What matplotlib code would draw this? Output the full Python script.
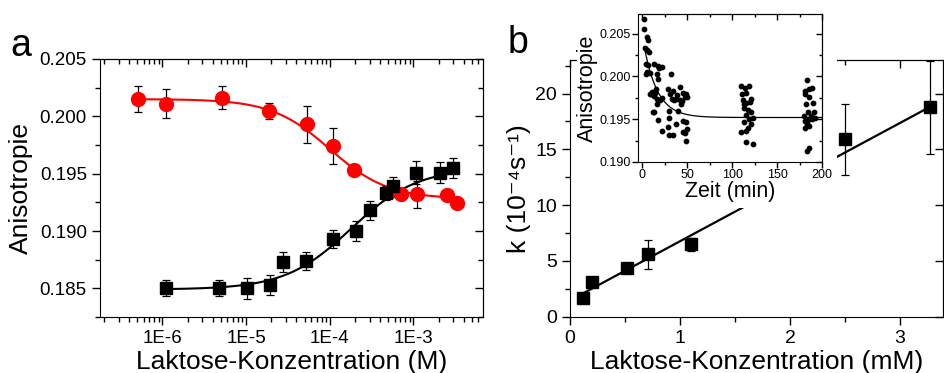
import numpy as np
import matplotlib.pyplot as plt
from matplotlib.ticker import AutoMinorLocator, MultipleLocator, NullFormatter
from matplotlib.patches import Rectangle

plt.rcParams['font.family'] = ['Liberation Sans', 'DejaVu Sans']

# Panel a: anisotropy vs lactose concentration (M)
conc_red = [5.1e-7, 1.1e-6, 5.2e-6, 1.9e-5, 5.3e-5, 1.08e-4, 1.95e-4, 5.1e-4, 7.1e-4, 1.1e-3, 2.5e-3, 3.3e-3]
aniso_red = [0.2015, 0.2011, 0.2016, 0.2005, 0.1993, 0.1974, 0.1953, 0.1934, 0.1932, 0.1932, 0.1931, 0.1924]
err_red = [0.0011, 0.00125, 0.001, 0.0007, 0.0016, 0.0016, 0.0003, 0.0003, 0.0003, 0.0012, 0.0003, 0.0002]

conc_black = [1.1e-6, 4.7e-6, 1.02e-5, 1.94e-5, 2.8e-5, 5.2e-5, 1.08e-4, 2.07e-4, 3.0e-4, 4.7e-4, 5.7e-4, 1.07e-3, 2.1e-3, 3.0e-3]
aniso_black = [0.1850, 0.1850, 0.1850, 0.1853, 0.1873, 0.1874, 0.1893, 0.1900, 0.1918, 0.1933, 0.1939, 0.1951, 0.1951, 0.1955]
err_black = [0.0007, 0.0007, 0.0009, 0.0009, 0.0009, 0.0008, 0.0008, 0.0009, 0.0008, 0.0006, 0.0008, 0.001, 0.0009, 0.0009]

# logistic fit parameters (A1, A2, x0, p)
fit_red = (0.2015, 0.1928, 1.0e-4, 1.25)
fit_black = (0.1849, 0.1955, 1.8e-4, 1.1)

# Panel b: rate constant vs lactose concentration (mM)
conc_mM = [0.115, 0.203, 0.52, 0.71, 1.1, 2.5, 3.27]
k_rate = [1.64, 3.13, 4.33, 5.6, 6.48, 15.9, 18.75]
k_err = [0.3, 0.4, 0.3, 1.3, 0.6, 3.2, 4.2]
lin_fit = (1.46, 5.3)  # intercept, slope

# Inset: anisotropy vs time (min)
t_min = [1.5, 2.2, 4.8, 6, 3, 5, 7.4, 4.4, 6.7, 5.6, 8, 3.7, 13.3, 17, 18.5, 21.5, 16.7, 17.4, 31.5,
         8, 10, 13, 14.8, 16.3, 19, 21.5, 16, 11.5, 13, 17.8, 14, 11, 21.5, 29, 31, 34.4, 32.6, 35,
         37, 38, 42, 45.5, 47, 49.6, 48, 43, 29.6, 39.6, 30, 37.8, 45, 48, 29, 29.3, 34.4, 45, 47.4,
         49.6, 49, 41.5, 43.7,
         110, 113.7, 119, 111, 115.6, 112, 115.6, 120, 112.6, 117, 121, 115.6, 119, 123, 112.6, 117,
         121, 110, 115, 115.6, 123, 121, 112.6,
         183, 180.7, 186, 181, 186, 182.6, 190, 184, 187.7, 191.5, 180, 181, 184.8, 188.5, 192, 183,
         186, 181.5, 185.5, 183.7, 189]
aniso_t = [0.2067, 0.2055, 0.2046, 0.2043, 0.2033, 0.2031, 0.2028, 0.2015, 0.2013, 0.2005, 0.2004, 0.2003,
           0.2014, 0.2012, 0.2010, 0.2011, 0.2003, 0.1997, 0.2003, 0.1980, 0.1979, 0.1977, 0.1985, 0.1974,
           0.1972, 0.1975, 0.1968, 0.1959, 0.1959, 0.1949, 0.1981, 0.1982, 0.1936, 0.1985, 0.1980, 0.1983,
           0.1974, 0.1972, 0.1974, 0.1978, 0.1988, 0.1981, 0.1976, 0.1976, 0.1980, 0.1968, 0.1960, 0.1960,
           0.1951, 0.1944, 0.1948, 0.1947, 0.1941, 0.1931, 0.1932, 0.1935, 0.1934, 0.1938, 0.1925, 0.1972,
           0.1971,
           0.1989, 0.1987, 0.1989, 0.1980, 0.1981, 0.1972, 0.1969, 0.1970, 0.1963, 0.1961, 0.1958, 0.1955,
           0.1950, 0.1952, 0.1947, 0.1940, 0.1944, 0.1935, 0.1936, 0.1923, 0.1921, 0.1974, 0.1968,
           0.1996, 0.1983, 0.1985, 0.1980, 0.1976, 0.1968, 0.1969, 0.1959, 0.1954, 0.1958, 0.1954, 0.1948,
           0.1949, 0.1950, 0.1952, 0.1944, 0.1942, 0.1940, 0.1916, 0.1913, 0.1986]
exp_fit = (0.1952, 0.0083, 2.0, 15.0)  # plateau, amplitude, t0, tau


def logistic(x, A1, A2, x0, p):
    return A2 + (A1 - A2) / (1 + (x / x0) ** p)


def style_ticks(ax, major, minor, size):
    # left/bottom ticks outward, top/right ticks inward (Origin style)
    ax.tick_params(which='both', direction='out', top=False, right=False, labelsize=size, width=1)
    ax.tick_params(which='major', length=major)
    ax.tick_params(which='minor', length=minor)
    sec_x = ax.secondary_xaxis('top')
    sec_y = ax.secondary_yaxis('right')
    for s in (sec_x, sec_y):
        s.tick_params(which='both', direction='in', width=1)
        s.tick_params(which='major', length=major)
        s.tick_params(which='minor', length=minor)
    return sec_x, sec_y


fig = plt.figure(figsize=(9.44, 3.73), dpi=100)

# ---------- panel a ----------
axa = fig.add_axes([0.106, 0.150, 0.4057, 0.692])
axa.set_xscale('log')
axa.set_xlim(1.8e-7, 6.8e-3)
axa.set_ylim(0.1825, 0.205)

xr = np.logspace(np.log10(5.1e-7), np.log10(3.5e-3), 300)
axa.plot(xr, logistic(xr, *fit_red), color='#ff0000', lw=1.5, zorder=2)
xb = np.logspace(np.log10(1.1e-6), np.log10(3.5e-3), 300)
axa.plot(xb, logistic(xb, *fit_black), color='black', lw=1.5, zorder=2)

axa.errorbar(conc_red, aniso_red, yerr=err_red, fmt='o', color='#ff0000', ms=10,
             ecolor='black', elinewidth=0.9, capsize=3, capthick=0.9, zorder=3)
axa.errorbar(conc_black, aniso_black, yerr=err_black, fmt='s', color='black', ms=9,
             ecolor='black', elinewidth=0.9, capsize=3, capthick=0.9, zorder=3)

axa.set_yticks([0.185, 0.190, 0.195, 0.200, 0.205])
axa.set_yticklabels(['0.185', '0.190', '0.195', '0.200', '0.205'])
axa.yaxis.set_minor_locator(AutoMinorLocator(2))
axa.set_xticks([1e-6, 1e-5, 1e-4, 1e-3])
axa.set_xticklabels(['1E-6', '1E-5', '1E-4', '1E-3'])
sx, sy = style_ticks(axa, 6, 3.5, 13.5)
sx.set_xscale('log')
sx.set_xticks([1e-6, 1e-5, 1e-4, 1e-3])
sx.xaxis.set_major_formatter(NullFormatter())
sx.xaxis.set_minor_formatter(NullFormatter())
sy.set_yticks([0.185, 0.190, 0.195, 0.200, 0.205])
sy.yaxis.set_minor_locator(AutoMinorLocator(2))
sy.yaxis.set_major_formatter(NullFormatter())
axa.set_ylabel('Anisotropie', fontsize=19, labelpad=5)
axa.set_xlabel('Laktose-Konzentration (M)', fontsize=19, labelpad=2)

fig.text(0.011, 0.85, 'a', fontsize=27, va='baseline')

# ---------- panel b ----------
axb = fig.add_axes([0.6038, 0.151, 0.395, 0.688], zorder=0)
axb.set_xlim(0, 3.39)
axb.set_ylim(0, 23)
xl = np.linspace(0.09, 3.3, 50)
axb.plot(xl, lin_fit[0] + lin_fit[1] * xl, color='black', lw=1.6, zorder=2)
axb.errorbar(conc_mM, k_rate, yerr=k_err, fmt='s', color='black', ms=8,
             ecolor='black', elinewidth=0.9, capsize=3, capthick=0.9, zorder=3)
axb.set_xticks([0, 1, 2, 3])
axb.set_yticks([0, 5, 10, 15, 20])
axb.xaxis.set_minor_locator(MultipleLocator(0.5))
axb.yaxis.set_minor_locator(MultipleLocator(2.5))
sxb, syb = style_ticks(axb, 6, 3.5, 14)
sxb.set_xticks([0, 1, 2, 3])
sxb.xaxis.set_minor_locator(MultipleLocator(0.5))
sxb.xaxis.set_major_formatter(NullFormatter())
syb.set_yticks([0, 5, 10, 15, 20])
syb.yaxis.set_major_formatter(NullFormatter())
axb.set_ylabel('k (10\u207b\u2074s\u207b\u00b9)', fontsize=19, labelpad=3)
axb.set_xlabel('Laktose-Konzentration (mM)', fontsize=19, labelpad=2)

fig.text(0.538, 0.858, 'b', fontsize=27, va='baseline')

# white patch behind the inset
fig.add_artist(Rectangle((0.611, 0.442), 0.276, 0.56, transform=fig.transFigure,
                         facecolor='white', edgecolor='none', zorder=1))

# ---------- inset ----------
axi = fig.add_axes([0.6758, 0.5657, 0.195, 0.3968], zorder=2)
axi.set_xlim(-5, 200)
axi.set_ylim(0.190, 0.2073)
tt = np.linspace(2, 200, 300)
axi.plot(tt, exp_fit[0] + exp_fit[1] * np.exp(-(tt - exp_fit[2]) / exp_fit[3]), color='black', lw=0.9)
axi.scatter(t_min, aniso_t, s=10, color='black', zorder=3)
axi.set_xticks([0, 50, 100, 150, 200])
axi.set_yticks([0.190, 0.195, 0.200, 0.205])
axi.set_yticklabels(['0.190', '0.195', '0.200', '0.205'])
axi.xaxis.set_minor_locator(MultipleLocator(25))
axi.yaxis.set_minor_locator(MultipleLocator(0.0025))
sxi, syi = style_ticks(axi, 4, 2.5, 9)
sxi.set_xticks([0, 50, 100, 150, 200])
sxi.xaxis.set_minor_locator(MultipleLocator(25))
sxi.xaxis.set_major_formatter(NullFormatter())
syi.set_yticks([0.190, 0.195, 0.200, 0.205])
syi.yaxis.set_minor_locator(MultipleLocator(0.0025))
syi.yaxis.set_major_formatter(NullFormatter())
axi.tick_params(pad=1)
axi.set_ylabel('Anisotropie', fontsize=15.5, labelpad=1)
axi.set_xlabel('Zeit (min)', fontsize=15.5, labelpad=0)
for s in axi.spines.values():
    s.set_linewidth(0.8)

fig.savefig('out.png', dpi=100)
